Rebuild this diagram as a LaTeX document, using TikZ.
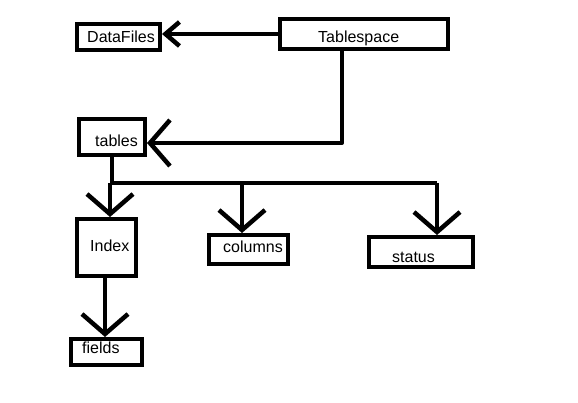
\documentclass[tikz,border=0pt]{standalone}
\usepackage{fontspec}
\setmainfont{Liberation Sans}
\usetikzlibrary{arrows.meta}
\begin{document}
\begin{tikzpicture}[x=1pt,y=-1pt,
  box/.style={draw,line width=4pt,rectangle,inner sep=0pt},
  lbl/.style={anchor=base west,inner sep=0pt,font=\fontsize{16}{18}\selectfont},
  conn/.style={line width=4pt,line join=round},
  arr/.style={conn,-{Straight Barb[length=20pt,width=46pt,line width=4.5pt,line join=miter]}},
  smallarr/.style={conn,-{Straight Barb[length=14pt,width=24pt,line width=4.5pt,line join=miter]}}]
\useasboundingbox[fill=white] (0,0) rectangle (578,403);
% boxes
\node[box,minimum width=83pt,minimum height=26pt] (DataFiles) at (118.5,37) {};
\node[box,minimum width=168pt,minimum height=30pt] (Tablespace) at (364,34) {};
\node[box,minimum width=66pt,minimum height=36pt] (tables) at (112,137) {};
\node[box,minimum width=59pt,minimum height=57pt] (Index) at (106.5,247.5) {};
\node[box,minimum width=79pt,minimum height=29pt] (columns) at (248.5,249.5) {};
\node[box,minimum width=104pt,minimum height=30pt] (status) at (421,252) {};
\node[box,minimum width=71pt,minimum height=26pt] (fields) at (106.5,352) {};
% labels
\node[lbl] (tDataFiles) at (87,43) {DataFiles};
\node[lbl] (tTablespace) at (318,43) {Tablespace};
\node[lbl] (ttables) at (95,147) {tables};
\node[lbl] (tIndex) at (90,252) {Index};
\node[lbl] (tcolumns) at (223,253) {columns};
\node[lbl] (tstatus) at (392,262) {status};
\node[lbl] (tfields) at (82,353) {fields};
% connector points
\coordinate (bend) at (342,143);
\coordinate (bus) at (112,183);
\coordinate (busend) at (437,183);
\coordinate (bIndex) at (110,183);
\coordinate (bcolumns) at (242,183);
\coordinate (xfields) at (105,300);
% connectors
\draw[smallarr] (Tablespace.west) -- (DataFiles.east |- Tablespace.west);
\draw[arr] (Tablespace.south -| bend) -- (bend) -- (tables.east |- bend);
\draw[conn] (tables.south -| bus) -- (bus) -- (busend);
\draw[arr] (bIndex) -- (Index.north -| bIndex);
\draw[arr] (bcolumns) -- (columns.north -| bcolumns);
\draw[arr] (busend) -- (status.north -| busend);
\draw[arr] (Index.south -| xfields) -- (fields.north -| xfields);
\end{tikzpicture}
\end{document}
